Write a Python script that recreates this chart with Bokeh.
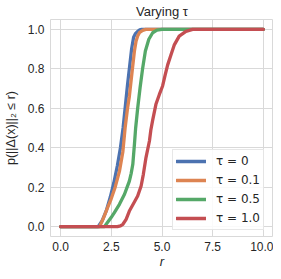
from bokeh.plotting import figure
from bokeh.models import FixedTicker, Range1d, Legend, LegendItem
from bokeh.embed import file_html
from bokeh.resources import INLINE

r_tau0 = [0.0, 1.85, 2.05, 2.25, 2.45, 2.62, 2.8, 2.95, 3.08, 3.2, 3.3, 3.4, 3.5, 3.6, 3.7, 3.8, 3.9, 4.0, 10.0]
p_tau0 = [0.0, 0.0, 0.03, 0.08, 0.15, 0.22, 0.31, 0.4, 0.5, 0.62, 0.72, 0.81, 0.9, 0.96, 0.98, 0.99, 0.997, 1.0, 1.0]

r_tau01 = [0.0, 1.92, 2.1, 2.33, 2.49, 2.69, 2.9, 3.07, 3.18, 3.3, 3.39, 3.53, 3.64, 3.72, 3.8, 3.9, 4.05, 4.2, 10.0]
p_tau01 = [0.0, 0.0, 0.04, 0.1, 0.14, 0.2, 0.28, 0.38, 0.5, 0.6, 0.66, 0.79, 0.89, 0.94, 0.966, 0.985, 0.995, 1.0, 1.0]

r_tau05 = [0.0, 2.16, 2.3, 2.49, 2.65, 2.9, 3.15, 3.28, 3.39, 3.48, 3.56, 3.64, 3.7, 3.8, 3.92, 4.05, 4.18, 4.35, 4.54, 4.75, 5.0, 10.0]
p_tau05 = [0.0, 0.0, 0.02, 0.046, 0.071, 0.113, 0.164, 0.2, 0.231, 0.27, 0.316, 0.417, 0.5, 0.6, 0.705, 0.806, 0.89, 0.95, 0.983, 0.996, 1.0, 1.0]

r_tau1 = [0.0, 2.8, 2.95, 3.07, 3.23, 3.39, 3.5, 3.61, 3.8, 3.97, 4.08, 4.21, 4.38, 4.45, 4.54, 4.7, 4.87, 5.03, 5.16, 5.28, 5.44, 5.6, 5.85, 6.18, 6.51, 10.0]
p_tau1 = [0.0, 0.0, 0.004, 0.012, 0.037, 0.079, 0.1, 0.12, 0.155, 0.206, 0.265, 0.35, 0.434, 0.49, 0.54, 0.62, 0.67, 0.713, 0.77, 0.82, 0.87, 0.92, 0.966, 0.99, 1.0, 1.0]

series_labels = ["τ = 0", "τ = 0.1", "τ = 0.5", "τ = 1.0"]
series_colors = ["#4c72b0", "#dd8452", "#55a868", "#c44e52"]
x_ticks = [0.0, 2.5, 5.0, 7.5, 10.0]
y_ticks = [0.0, 0.2, 0.4, 0.6, 0.8, 1.0]

TEXT = "#262626"
GRID = "#d9d9d9"

p = figure(width=273, height=271, output_backend="svg", toolbar_location=None,
           x_range=Range1d(-0.5, 10.5), y_range=Range1d(-0.05, 1.05),
           min_border_left=42, min_border_right=0, min_border_bottom=5, min_border_top=0,
           title="Varying τ")

p.title.align = "center"
p.title.text_font = "Liberation Sans"
p.title.text_font_size = "13px"
p.title.text_font_style = "normal"
p.title.text_color = TEXT
p.title.standoff = 2

p.background_fill_color = "white"
p.border_fill_color = "white"
p.outline_line_color = GRID
p.outline_line_width = 1

for ax in (p.xaxis, p.yaxis):
    ax.axis_line_color = None
    ax.major_tick_line_color = None
    ax.minor_tick_line_color = None
    ax.major_tick_out = 0
    ax.major_tick_in = 0
    ax.minor_tick_out = 0
    ax.minor_tick_in = 0
    ax.major_label_text_font = "Liberation Sans"
    ax.major_label_text_font_size = "12px"
    ax.major_label_text_color = TEXT
    ax.axis_label_text_font = "Liberation Sans"
    ax.axis_label_text_color = TEXT

p.xaxis.major_label_standoff = 5
p.yaxis.major_label_standoff = 6

p.xaxis.ticker = FixedTicker(ticks=x_ticks)
p.yaxis.ticker = FixedTicker(ticks=y_ticks)
p.xaxis.major_label_overrides = {v: f"{v:.1f}" for v in x_ticks}
p.yaxis.major_label_overrides = {v: f"{v:.1f}" for v in y_ticks}

p.xaxis.axis_label = "r"
p.xaxis.axis_label_text_font_size = "13px"
p.xaxis.axis_label_text_font_style = "italic"
p.xaxis.axis_label_standoff = 0
p.yaxis.axis_label = "p(||Δ(x)||₂ ≤ r)"
p.yaxis.axis_label_text_font_size = "12.5px"
p.yaxis.axis_label_text_font_style = "normal"
p.yaxis.axis_label_standoff = 7

p.xgrid.ticker = FixedTicker(ticks=x_ticks)
p.ygrid.ticker = FixedTicker(ticks=y_ticks)
p.xgrid.grid_line_color = GRID
p.ygrid.grid_line_color = GRID
p.xgrid.grid_line_width = 1
p.ygrid.grid_line_width = 1

xs = [r_tau0, r_tau01, r_tau05, r_tau1]
ys = [p_tau0, p_tau01, p_tau05, p_tau1]
items = []
for x, y, lab, col in zip(xs, ys, series_labels, series_colors):
    rr = p.line(x, y, line_color=col, line_width=3.3, line_join="round", line_cap="round")
    items.append(LegendItem(label=lab, renderers=[rr]))

legend = Legend(items=items, location=(122, 6))
legend.margin = 0
legend.padding = 3
legend.spacing = 3
legend.glyph_width = 30
legend.glyph_height = 16
legend.label_height = 16
legend.label_standoff = 10
legend.label_text_font = "DejaVu Sans"
legend.label_text_font_size = "12px"
legend.label_text_color = TEXT
legend.border_line_color = "#d0d0d0"
legend.border_line_width = 1
legend.background_fill_color = "white"
legend.background_fill_alpha = 0.85
p.add_layout(legend, "center")

open("out.html", "w").write(file_html(p, INLINE))
